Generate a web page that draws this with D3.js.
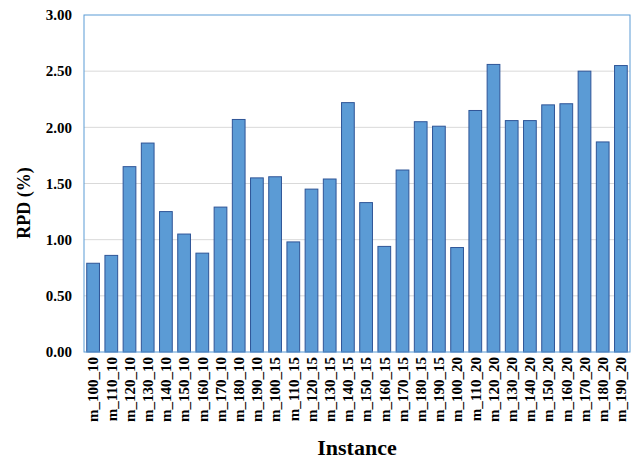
<!DOCTYPE html>
<html><head><meta charset="utf-8">
<script src="https://cdn.jsdelivr.net/npm/d3@7"></script>
<style>body{margin:0;background:#fff}</style>
</head><body>
<svg id="c" width="638" height="460"></svg>
<script>
const categories = ["m_100_10","m_110_10","m_120_10","m_130_10","m_140_10","m_150_10","m_160_10","m_170_10","m_180_10","m_190_10",
"m_100_15","m_110_15","m_120_15","m_130_15","m_140_15","m_150_15","m_160_15","m_170_15","m_180_15","m_190_15",
"m_100_20","m_110_20","m_120_20","m_130_20","m_140_20","m_150_20","m_160_20","m_170_20","m_180_20","m_190_20"];
const rpd = [0.79,0.86,1.65,1.86,1.25,1.05,0.88,1.29,2.07,1.55,
1.56,0.98,1.45,1.54,2.22,1.33,0.94,1.62,2.05,2.01,
0.93,2.15,2.56,2.06,2.06,2.20,2.21,2.50,1.87,2.55];
const yTicks = [0,0.5,1,1.5,2,2.5,3];

const svg = d3.select("#c");
const m = {l:84, r:630, t:15, b:352};
const x = d3.scaleBand().domain(categories).range([m.l, m.r]).paddingInner(0.3).paddingOuter(0.15);
const y = d3.scaleLinear().domain([0,3]).range([m.b, m.t]);
const font = "'Liberation Serif','Times New Roman',serif";

// gridlines
svg.append("g").selectAll("line").data(yTicks.slice(1,-1)).join("line")
  .attr("x1", m.l).attr("x2", m.r).attr("y1", d=>y(d)).attr("y2", d=>y(d))
  .attr("stroke", "#d9d9d9").attr("stroke-width", 1);

// bars
svg.append("g").selectAll("rect").data(categories).join("rect")
  .attr("x", d=>x(d)).attr("width", x.bandwidth())
  .attr("y", (d,i)=>y(rpd[i])).attr("height", (d,i)=>y(0)-y(rpd[i]))
  .attr("fill", "#5b9bd5").attr("stroke", "#2f5597").attr("stroke-width", 1);

// plot border
svg.append("rect").attr("x", m.l).attr("y", m.t).attr("width", m.r-m.l).attr("height", m.b-m.t)
  .attr("fill","none").attr("stroke","#5b9bd5").attr("stroke-width",1);

// y axis
const ya = svg.append("g").attr("transform", `translate(${m.l},0)`)
  .call(d3.axisLeft(y).tickValues(yTicks).tickFormat(d3.format(".2f")).tickSize(0).tickPadding(12));
ya.select(".domain").remove();
ya.selectAll("text").attr("font-family", font).attr("font-weight","bold").attr("font-size","15px").attr("fill","#000");

// x axis
const xa = svg.append("g").attr("transform", `translate(0,${m.b})`)
  .call(d3.axisBottom(x).tickSize(0));
xa.select(".domain").remove();
xa.selectAll("text")
  .attr("transform","rotate(-90)").attr("text-anchor","end")
  .attr("x",-5).attr("y",0).attr("dy","0.35em")
  .attr("font-family", font).attr("font-weight","bold").attr("font-size","15px").attr("fill","#000");

// titles
svg.append("text").attr("x", (m.l+m.r)/2).attr("y", 455).attr("text-anchor","middle")
  .attr("font-family", font).attr("font-weight","bold").attr("font-size","22px").text("Instance");
svg.append("text").attr("transform", `translate(30,203) rotate(-90)`).attr("text-anchor","middle")
  .attr("font-family", font).attr("font-weight","bold").attr("font-size","18px").text("RPD (%)");
</script>
</body></html>
